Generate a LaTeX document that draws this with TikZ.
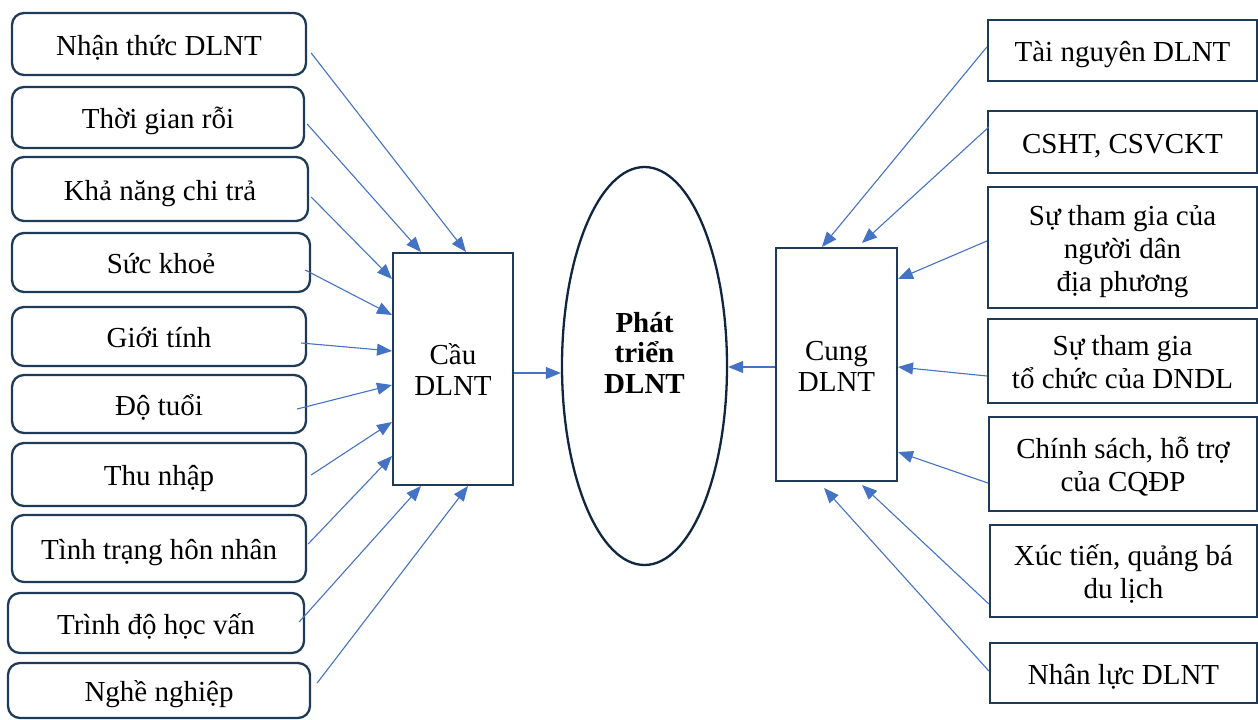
\documentclass[tikz,border=0pt]{standalone}
\usepackage{fontspec}
\setmainfont{Liberation Serif}
\usetikzlibrary{arrows.meta,calc,shapes.geometric}
\definecolor{boxc}{HTML}{1F3A56}
\definecolor{ellc}{HTML}{0F2540}
\definecolor{arrc}{HTML}{4472C4}
\newcommand{\txtfont}{\fontsize{29}{33}\selectfont}
\tikzset{
  base/.style={draw=boxc, line width=2.3pt, inner sep=0pt, align=center, font=\txtfont, text height=22.5pt, text depth=0pt},
  twolines/.style={text height=55.5pt},
  threelines/.style={text height=88.5pt},
  lbox/.style={base, rounded corners=12pt},
  rbox/.style={base},
  mid/.style={base, line width=2pt, font=\fontsize{29}{31}\selectfont, text height=53.5pt},
  conn/.style={draw=arrc, line width=1.1pt, -{Triangle[length=15pt,width=12pt]}}
}
\begin{document}
\begin{tikzpicture}[x=1pt,y=-1pt]
\useasboundingbox (0,0) rectangle (1258,720);
% left boxes
\node[lbox, minimum width=294, minimum height=62] (l1) at (159,44) {Nhận thức DLNT};
\node[lbox, minimum width=292, minimum height=61] (l2) at (158,117.5) {Thời gian rỗi};
\node[lbox, minimum width=296, minimum height=64] (l3) at (160,189) {Khả năng chi trả};
\node[lbox, minimum width=298, minimum height=59] (l4) at (161,262.5) {Sức khoẻ};
\node[lbox, minimum width=294, minimum height=59] (l5) at (159,336.5) {Giới tính};
\node[lbox, minimum width=294, minimum height=58] (l6) at (159,404) {Độ tuổi};
\node[lbox, minimum width=294, minimum height=63] (l7) at (159,474.5) {Thu nhập};
\node[lbox, minimum width=294, minimum height=67] (l8) at (159,548.5) {Tình trạng hôn nhân};
\node[lbox, minimum width=296, minimum height=60] (l9) at (156,623) {Trình độ học vấn};
\node[lbox, minimum width=302, minimum height=55] (l10) at (159,690.5) {Nghề nghiệp};
% right boxes
\node[rbox, minimum width=269, minimum height=61] (r1) at (1122.5,50.5) {Tài nguyên DLNT};
\node[rbox, minimum width=269, minimum height=62] (r2) at (1122.5,142) {CSHT, CSVCKT};
\node[rbox, threelines, minimum width=269, minimum height=121] (r3) at (1122.5,247.5) {Sự tham gia của\\người dân\\địa phương};
\node[rbox, twolines, minimum width=269, minimum height=84] (r4) at (1122.5,361) {Sự tham gia\\tổ chức của DNDL};
\node[rbox, twolines, minimum width=268, minimum height=94] (r5) at (1123,464) {Chính sách, hỗ trợ\\của CQĐP};
\node[rbox, twolines, minimum width=267, minimum height=92] (r6) at (1123.5,571) {Xúc tiến, quảng bá\\du lịch};
\node[rbox, minimum width=267, minimum height=60] (r7) at (1123.5,673) {Nhân lực DLNT};
% middle
\node[mid, minimum width=120, minimum height=232] (cau) at (453,369) {Cầu\\DLNT};
\node[mid, minimum width=121, minimum height=233] (cung) at (836.5,364.5) {Cung\\DLNT};
\node[base, draw=ellc, ellipse, minimum width=165, minimum height=398, font=\fontsize{29}{30.5}\selectfont\bfseries, text height=83.5pt, text depth=29.5pt] (ell) at (644.5,366) {Phát\\triển\\DLNT};
% left connectors
\draw[conn] ($(l1.east)+(4,9)$) -- ($(cau.north west)+(74,0)$);
\draw[conn] ($(l2.east)+(2,6.5)$) -- ($(cau.north west)+(29,0)$);
\draw[conn] ($(l3.east)+(2,8)$) -- ($(cau.north west)+(0,27)$);
\draw[conn] ($(l4.east)+(-6,7.5)$) -- ($(cau.north west)+(0,63)$);
\draw[conn] ($(l5.east)+(-6,6.5)$) -- ($(cau.north west)+(0,99)$);
\draw[conn] ($(l6.east)+(-10,5)$) -- ($(cau.north west)+(0,133)$);
\draw[conn] ($(l7.east)+(4,0.5)$) -- ($(cau.north west)+(0,170)$);
\draw[conn] ($(l8.east)+(1,-4.5)$) -- ($(cau.north west)+(0,204)$);
\draw[conn] ($(l9.east)+(-6,-1)$) -- ($(cau.south west)+(29,0)$);
\draw[conn] ($(l10.east)+(6,-7.5)$) -- ($(cau.south west)+(76,0)$);
% right connectors
\draw[conn] ($(r1.west)+(0,-3.5)$) -- ($(cung.north west)+(47,0)$);
\draw[conn] ($(r2.west)+(2,-15)$) -- ($(cung.north west)+(87,-4)$);
\draw[conn] ($(r3.west)+(0,-6.5)$) -- ($(cung.north east)+(0,32)$);
\draw[conn] ($(r4.west)+(0,15)$) -- ($(cung.north east)+(0,120)$);
\draw[conn] ($(r5.west)+(0,19)$) -- ($(cung.north east)+(0,205)$);
\draw[conn] ($(r6.west)+(0,33)$) -- ($(cung.south west)+(87,3)$);
\draw[conn] ($(r7.west)+(0,-2)$) -- ($(cung.south west)+(49,6)$);
% center connectors
\draw[conn] ($(cau.east)+(0,4)$) -- ($(ell.west)+(0,7)$);
\draw[conn] ($(cung.west)+(0,2.5)$) -- (ell.east |- {$(cung.west)+(0,2.5)$});
\end{tikzpicture}
\end{document}
